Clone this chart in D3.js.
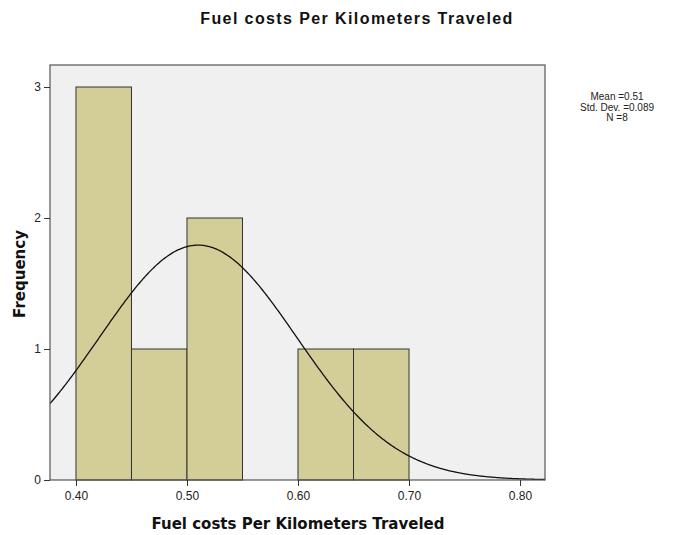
<!DOCTYPE html>
<html>
<head>
<meta charset="utf-8">
<script src="https://cdn.jsdelivr.net/npm/d3@7/dist/d3.min.js"></script>
<style>
  html, body { margin: 0; padding: 0; background: #ffffff; }
  svg { display: block; font-family: "Liberation Sans", Arial, sans-serif; }
</style>
</head>
<body>
<svg id="chart" width="679" height="535"></svg>
<script>
// Histogram bins (lower edge, upper edge) and counts
const binStarts = [0.40, 0.45, 0.50, 0.55, 0.60, 0.65];
const binEnds   = [0.45, 0.50, 0.55, 0.60, 0.65, 0.70];
const counts    = [3, 1, 2, 0, 1, 1];

// Summary statistics shown in the legend
const meanVal = 0.51;
const stdDev = 0.089;
const nCount = 8;

const xTicks = [0.40, 0.50, 0.60, 0.70, 0.80];
const yTicks = [0, 1, 2, 3];

const svg = d3.select("#chart");
const frame = { left: 50, right: 545, top: 65, bottom: 480 };

const x = d3.scaleLinear().domain([0.3766, 0.8225]).range([frame.left, frame.right]);
const y = d3.scaleLinear().domain([0, 3]).range([480, 87]);

// plot background
svg.append("rect")
  .attr("x", frame.left).attr("y", frame.top)
  .attr("width", frame.right - frame.left).attr("height", frame.bottom - frame.top)
  .attr("fill", "#f0f0f0");

// bars
svg.append("g").selectAll("rect")
  .data(counts.map((c, i) => ({ c, a: binStarts[i], b: binEnds[i] })).filter(d => d.c > 0))
  .join("rect")
  .attr("x", d => x(d.a))
  .attr("y", d => y(d.c))
  .attr("width", d => x(d.b) - x(d.a))
  .attr("height", d => y(0) - y(d.c))
  .attr("fill", "#d3ce97")
  .attr("stroke", "#333")
  .attr("stroke-width", 1);

// normal curve scaled to the histogram: N * bin width * density
const binWidth = 0.05;
const xs = d3.range(0, 401).map(i => x.domain()[0] + (x.domain()[1] - x.domain()[0]) * i / 400);
const curve = xs.map(v => ({
  v,
  f: nCount * binWidth * Math.exp(-0.5 * ((v - meanVal) / stdDev) ** 2) / (stdDev * Math.sqrt(2 * Math.PI))
}));
svg.append("path")
  .datum(curve)
  .attr("fill", "none")
  .attr("stroke", "#111")
  .attr("stroke-width", 1.3)
  .attr("d", d3.line().x(d => x(d.v)).y(d => y(d.f)).curve(d3.curveBasis));

// frame
svg.append("rect")
  .attr("x", frame.left).attr("y", frame.top)
  .attr("width", frame.right - frame.left).attr("height", frame.bottom - frame.top)
  .attr("fill", "none").attr("stroke", "#555").attr("stroke-width", 1.2);

// axes
const xAxis = d3.axisBottom(x).tickValues(xTicks).tickFormat(d3.format(".2f")).tickSize(6).tickPadding(5);
const gx = svg.append("g").attr("transform", `translate(0,${frame.bottom})`).call(xAxis);
gx.select(".domain").remove();
gx.selectAll("line").attr("stroke", "#333");
gx.selectAll("text").attr("font-size", 12).attr("fill", "#222").attr("font-family", "Liberation Sans, Arial, sans-serif");

const yAxis = d3.axisLeft(y).tickValues(yTicks).tickFormat(d3.format("d")).tickSize(6).tickPadding(3);
const gy = svg.append("g").attr("transform", `translate(${frame.left},0)`).call(yAxis);
gy.select(".domain").remove();
gy.selectAll("line").attr("stroke", "#333");
gy.selectAll("text").attr("font-size", 12).attr("fill", "#222").attr("font-family", "Liberation Sans, Arial, sans-serif");

// titles
svg.append("text")
  .attr("x", 357).attr("y", 24)
  .attr("text-anchor", "middle")
  .attr("font-size", 16).attr("font-weight", "bold").attr("fill", "#111")
  .attr("letter-spacing", 1.4)
  .text("Fuel costs Per Kilometers Traveled");

svg.append("text")
  .attr("x", 298).attr("y", 529)
  .attr("text-anchor", "middle")
  .attr("font-family", "DejaVu Sans, sans-serif")
  .attr("font-size", 15).attr("font-weight", "bold").attr("fill", "#111")
  .text("Fuel costs Per Kilometers Traveled");

svg.append("text")
  .attr("transform", "translate(25,274) rotate(-90)")
  .attr("text-anchor", "middle")
  .attr("font-family", "DejaVu Sans, sans-serif")
  .attr("font-size", 15).attr("font-weight", "bold").attr("fill", "#111")
  .text("Frequency");

// legend with summary statistics
const legendLines = [`Mean =${meanVal.toFixed(2)}`, `Std. Dev. =${stdDev.toFixed(3)}`, `N =${nCount}`];
svg.append("g").selectAll("text")
  .data(legendLines)
  .join("text")
  .attr("x", 617)
  .attr("y", (d, i) => 100 + i * 10.5)
  .attr("text-anchor", "middle")
  .attr("font-size", 10).attr("fill", "#222")
  .text(d => d);
</script>
</body>
</html>
